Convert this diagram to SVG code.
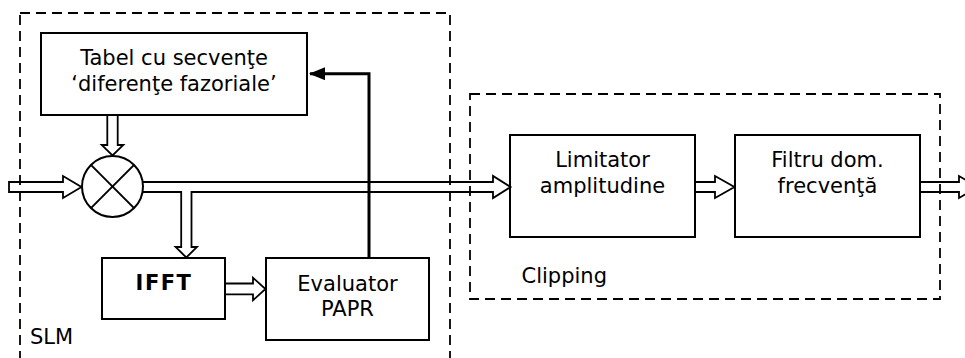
<svg xmlns="http://www.w3.org/2000/svg" width="965" height="358" viewBox="0 0 965 358">
<style>
.box{fill:#fff;stroke:#000;stroke-width:2}
.dash{fill:none;stroke:#000;stroke-width:1.8;stroke-dasharray:10 6}
.hol{fill:none;stroke:#000;stroke-width:1.8;stroke-linejoin:miter}
.t{font-family:"DejaVu Sans",Verdana,sans-serif;font-size:21px;fill:#000}
.c{text-anchor:middle}
.b{font-weight:bold}
</style>
<defs>
<marker id="ah" markerWidth="17" markerHeight="13" refX="15" refY="6.5" orient="auto" markerUnits="userSpaceOnUse">
<path d="M0,0 L16,6.5 L0,13 Z" fill="#000"/>
</marker>
</defs>
<g id="tabel">
<rect class="box" x="41" y="33" width="266" height="82"/>
<text class="t c" x="174" y="65">Tabel cu secvenţe</text>
<text class="t c" x="174" y="91">‘diferenţe fazoriale’</text>
</g>
<g id="mixer">
<circle cx="112.5" cy="186.5" r="30.5" fill="#fff" stroke="#000" stroke-width="2"/>
<line x1="90.9" y1="164.9" x2="134.1" y2="208.1" stroke="#000" stroke-width="2"/>
<line x1="134.1" y1="164.9" x2="90.9" y2="208.1" stroke="#000" stroke-width="2"/>
</g>
<g id="ifft">
<rect class="box" x="102" y="258" width="123" height="61"/>
<text class="t c b" x="164" y="290" letter-spacing="1.5">IFFT</text>
</g>
<g id="evaluator">
<rect class="box" x="266" y="258" width="163" height="82"/>
<text class="t c" x="347.5" y="291">Evaluator</text>
<text class="t c" x="347.5" y="316">PAPR</text>
</g>
<g id="limitator">
<rect class="box" x="510" y="135" width="185" height="102"/>
<text class="t c" x="602.5" y="167">Limitator</text>
<text class="t c" x="602.5" y="193">amplitudine</text>
</g>
<g id="filtru">
<rect class="box" x="735" y="135" width="185" height="102"/>
<text class="t c" x="827.5" y="167">Filtru dom.</text>
<text class="t c" x="827.5" y="193">frecvenţă</text>
</g>
<g id="connectors">
<path class="hol" d="M9,182 H63 V176 L81.5,187 L63,198 V192 H9 Z"/>
<path class="hol" d="M107.3,115 V145 H101.7 L112.5,155.5 L123.3,145 H117.7 V115"/>
<path class="hol" d="M142.7,182 H493 V176 L510.5,187 L493,198 V192 H191.5 V247 H197 L186.3,257.5 L175.6,247 H181.2 V192 H142.7"/>
<path class="hol" d="M225,283.5 H253 V277.7 L265.5,289 L253,300.3 V294.3 H225"/>
<path class="hol" d="M695,182 H715 V176 L734.5,187 L715,198 V192 H695"/>
<path class="hol" d="M920,182 H959 V176 L977.5,187 L959,198 V192 H920"/>
<polyline points="369,258 369,73.7 310,73.7" fill="none" stroke="#000" stroke-width="3" stroke-linejoin="miter" marker-end="url(#ah)"/>
</g>
<g id="slm">
<rect class="dash" x="20" y="13" width="430" height="360"/>
<text class="t" x="30" y="344">SLM</text>
</g>
<g id="clipping">
<rect class="dash" x="470" y="94" width="470" height="205"/>
<text class="t" x="521.5" y="283">Clipping</text>
</g>
</svg>
